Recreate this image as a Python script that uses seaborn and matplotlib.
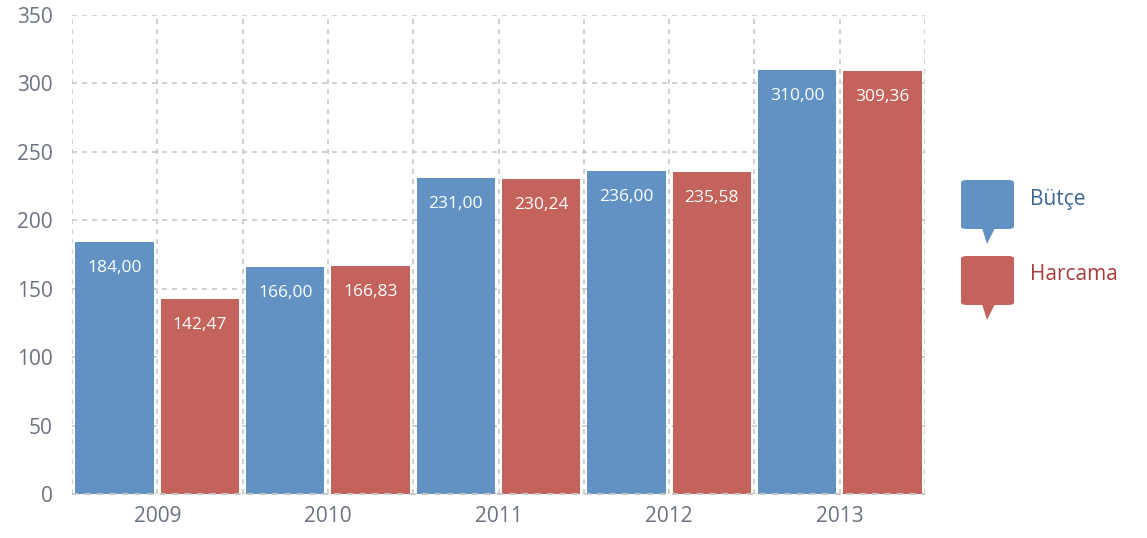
import matplotlib
matplotlib.use("Agg")
import matplotlib.pyplot as plt
import seaborn as sns
import pandas as pd
import numpy as np
from matplotlib.patches import FancyBboxPatch, Polygon
from matplotlib.ticker import MultipleLocator

years = ["2009", "2010", "2011", "2012", "2013"]
butce = [184.00, 166.00, 231.00, 236.00, 310.00]
harcama = [142.47, 166.83, 230.24, 235.58, 309.36]
series_names = ["Bütçe", "Harcama"]
colors = ["#6192C3", "#C4625C"]
text_colors = ["#3D6598", "#A83C3C"]
yticks = [0, 50, 100, 150, 200, 250, 300, 350]

df = pd.DataFrame({
    "Yıl": years * 2,
    "Değer": butce + harcama,
    "Seri": [series_names[0]] * len(years) + [series_names[1]] * len(years),
})

sns.set_style("white")
plt.rcParams["font.family"] = ["Open Sans", "DejaVu Sans"]

fig = plt.figure(figsize=(11.47, 5.38), dpi=100)
ax = fig.add_axes([72 / 1147, 44 / 538, (925 - 72) / 1147, (494 - 15) / 538])

sns.barplot(data=df, x="Yıl", y="Değer", hue="Seri", palette=colors,
            width=1.0, gap=0.08, ax=ax, legend=False, saturation=1,
            edgecolor="none", linewidth=0, errorbar=None, zorder=3)

ax.set_xlim(-0.5, len(years) - 0.5)
ax.set_ylim(0, 350)
ax.set_yticks(yticks)
ax.xaxis.set_minor_locator(MultipleLocator(0.5))
ax.grid(False)
ax.grid(True, axis="y", which="major", linestyle=(0, (3, 3)), color="#c8c8c8", linewidth=1.2, zorder=0)
ax.grid(True, axis="x", which="both", linestyle=(0, (3, 3)), color="#c8c8c8", linewidth=1.2, zorder=0)
ax.set_axisbelow(True)
for s in ax.spines.values():
    s.set_visible(False)
ax.tick_params(axis="both", which="both", length=0, labelsize=15, labelcolor="#6b7280")
ax.tick_params(axis="y", pad=14)
ax.tick_params(axis="x", pad=9)
ax.set_xlabel("")
ax.set_ylabel("")
ax.axhline(0, linestyle=(0, (3, 3)), color="#c8c8c8", linewidth=1.5, zorder=4, clip_on=False)

for cont in ax.containers:
    for bar in cont:
        h = bar.get_height()
        ax.annotate(f"{h:.2f}".replace(".", ","),
                    (bar.get_x() + bar.get_width() / 2, h),
                    xytext=(0, -26), textcoords="offset pixels",
                    ha="center", va="center", color="white", fontsize=12.5, zorder=5)

# speech-bubble legend in pixel coords
W, H = 1147, 538
def px(x, y):
    return (x / W, 1 - y / H)

for i, (name, c, tc) in enumerate(zip(series_names, colors, text_colors)):
    top = 180 + i * 76
    x0, x1 = 961, 1014
    y0, y1 = top, top + 49
    box = FancyBboxPatch(px(x0, y1), (x1 - x0) / W, (y1 - y0) / H,
                         boxstyle="round,pad=0,rounding_size=0.005",
                         transform=fig.transFigure, facecolor=c, edgecolor="none")
    fig.patches.append(box)
    tri = Polygon([px(982, y1 - 1), px(995, y1 - 1), px(987, y1 + 15)],
                  closed=True, transform=fig.transFigure, facecolor=c, edgecolor="none")
    fig.patches.append(tri)
    fig.text(1030 / W, 1 - (top + 19) / H, name, color=tc, fontsize=15,
             ha="left", va="center")

fig.savefig("out.png", dpi=100)
